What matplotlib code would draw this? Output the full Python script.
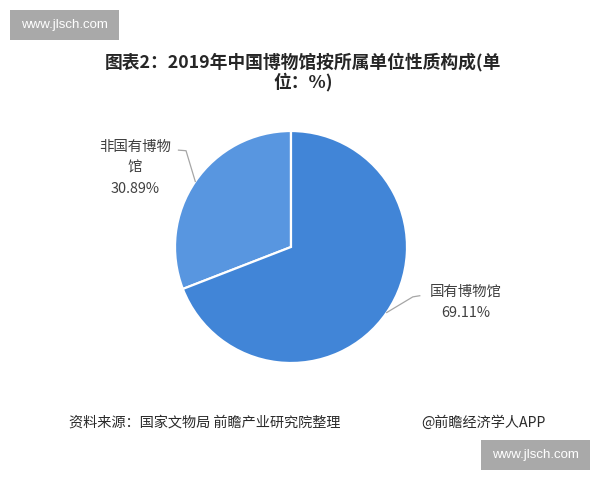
import numpy as np
import matplotlib
matplotlib.use("Agg")
import matplotlib.pyplot as plt
from matplotlib.patches import Rectangle

plt.rcParams['font.family'] = ['Noto Sans CJK SC', 'DejaVu Sans']

# ---- data ----
categories = ["非国有博物\n馆", "国有博物馆"]
values = [30.89, 69.11]
title = "图表2：2019年中国博物馆按所属单位性质构成(单\n位：%)"
source = "资料来源：国家文物局 前瞻产业研究院整理"
credit = "@前瞻经济学人APP"
watermark = "www.jlsch.com"

colors = ["#5896e0", "#4185d7"]

W, H = 600, 480
fig = plt.figure(figsize=(W / 100, H / 100), dpi=100)
fig.patch.set_facecolor("white")


def fx(x):
    return x / W


def fy(y):
    return 1 - y / H


# pie axes: center (291,247), radius 116 px
cx, cy, r = 291, 247, 116
ax = fig.add_axes([fx(cx - r), fy(cy + r), 2 * r / W, 2 * r / H])
wedges, _ = ax.pie(values, startangle=90, counterclock=True, colors=colors,
                   wedgeprops=dict(edgecolor="white", linewidth=1.6))
ax.set_xlim(-1, 1)
ax.set_ylim(-1, 1)
ax.set_aspect("equal")
ax.axis("off")

# leader lines and labels
label_pos = [(135, 168), (466, 302)]   # pixel centres of label blocks
elbow = [(-0.905, 0.83), (1.05, -0.43)]
end = [(-0.97, 0.835), (1.11, -0.42)]
for i, w in enumerate(wedges):
    mid = np.deg2rad((w.theta1 + w.theta2) / 2)
    px, py = np.cos(mid), np.sin(mid)
    ex, ey = elbow[i]
    tx, ty = end[i]
    ax.plot([px, ex, tx], [py, ey, ty], color="#a6a6a6", lw=0.9, clip_on=False)
    lx, ly = label_pos[i]
    fig.text(fx(lx), fy(ly), f"{categories[i]}\n{values[i]:.2f}%", ha="center",
             va="center", fontsize=10.4, color="#404040", linespacing=1.65)

# title
fig.text(fx(303), fy(72), title, ha="center", va="center", fontsize=12.8,
         fontweight="bold", color="#262626", linespacing=1.08)

# footer
fig.text(fx(69), fy(423), source, ha="left", va="center", fontsize=10.2,
         color="#2a2a2a")
fig.text(fx(421), fy(423), credit, ha="left", va="center", fontsize=10.2,
         color="#2a2a2a")

# watermark boxes
for (x0, y0, x1, y1) in [(10, 10, 119, 40), (481, 440, 590, 470)]:
    fig.patches.append(Rectangle((fx(x0), fy(y1)), (x1 - x0) / W, (y1 - y0) / H,
                                 transform=fig.transFigure, facecolor="#a9a9a9",
                                 edgecolor="none"))
    fig.text(fx((x0 + x1) / 2), fy((y0 + y1) / 2), watermark, ha="center",
             va="center", fontsize=9.5, color="white", family="Liberation Sans")

fig.savefig("out.png", dpi=100)
